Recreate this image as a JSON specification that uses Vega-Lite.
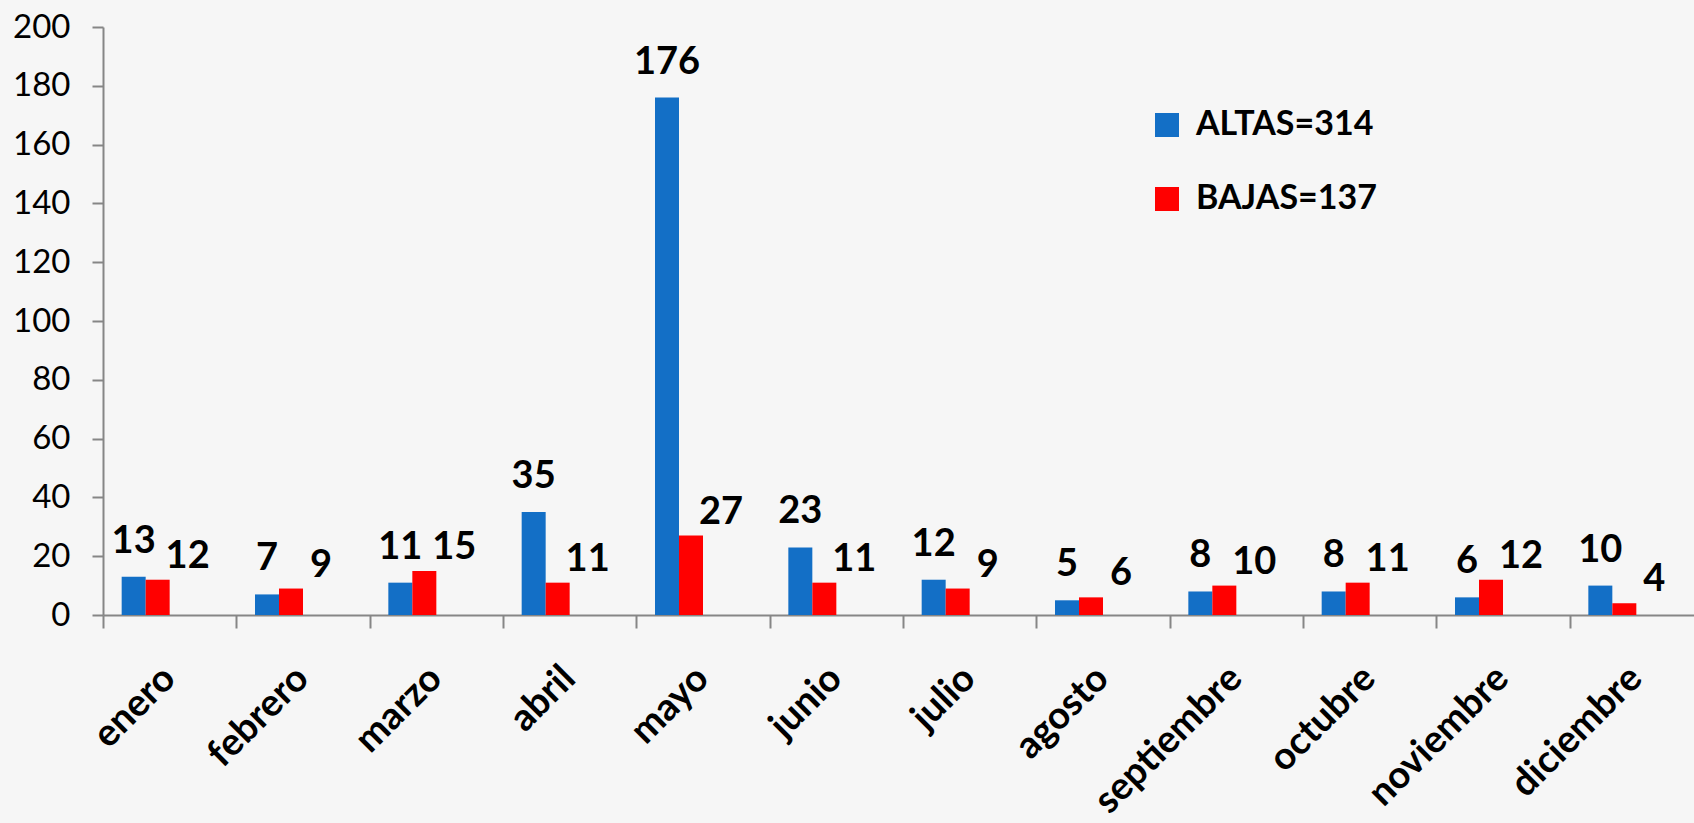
{
  "$schema": "https://vega.github.io/schema/vega-lite/v6.json",
  "width": 1591,
  "height": 588,
  "autosize": {"type": "none"},
  "padding": {"left": 103, "top": 27, "right": 0, "bottom": 208},
  "background": "#f6f6f6",
  "config": {"view": {"stroke": null}, "font": "Lato"},
  "data": {
    "values": [
      {"mes": "enero", "serie": "ALTAS=314", "valor": 13},
      {"mes": "enero", "serie": "BAJAS=137", "valor": 12},
      {"mes": "febrero", "serie": "ALTAS=314", "valor": 7},
      {"mes": "febrero", "serie": "BAJAS=137", "valor": 9},
      {"mes": "marzo", "serie": "ALTAS=314", "valor": 11},
      {"mes": "marzo", "serie": "BAJAS=137", "valor": 15},
      {"mes": "abril", "serie": "ALTAS=314", "valor": 35},
      {"mes": "abril", "serie": "BAJAS=137", "valor": 11},
      {"mes": "mayo", "serie": "ALTAS=314", "valor": 176},
      {"mes": "mayo", "serie": "BAJAS=137", "valor": 27},
      {"mes": "junio", "serie": "ALTAS=314", "valor": 23},
      {"mes": "junio", "serie": "BAJAS=137", "valor": 11},
      {"mes": "julio", "serie": "ALTAS=314", "valor": 12},
      {"mes": "julio", "serie": "BAJAS=137", "valor": 9},
      {"mes": "agosto", "serie": "ALTAS=314", "valor": 5},
      {"mes": "agosto", "serie": "BAJAS=137", "valor": 6},
      {"mes": "septiembre", "serie": "ALTAS=314", "valor": 8},
      {"mes": "septiembre", "serie": "BAJAS=137", "valor": 10},
      {"mes": "octubre", "serie": "ALTAS=314", "valor": 8},
      {"mes": "octubre", "serie": "BAJAS=137", "valor": 11},
      {"mes": "noviembre", "serie": "ALTAS=314", "valor": 6},
      {"mes": "noviembre", "serie": "BAJAS=137", "valor": 12},
      {"mes": "diciembre", "serie": "ALTAS=314", "valor": 10},
      {"mes": "diciembre", "serie": "BAJAS=137", "valor": 4}
    ]
  },
  "encoding": {
    "x": {
      "field": "mes",
      "type": "nominal",
      "sort": null,
      "scale": {"paddingInner": 0, "paddingOuter": 0, "range": [0, 1600]},
      "axis": {
        "title": null,
        "tickBand": "extent",
        "labelAngle": -45,
        "labelFont": "Lato",
        "labelFontSize": 38,
        "labelFontWeight": "bold",
        "labelColor": "#000000",
        "labelLimit": 0,
        "labelPadding": 31,
        "labelOffset": -14,
        "tickSize": 13,
        "tickColor": "#868686",
        "tickWidth": 2,
        "domainColor": "#868686",
        "domainWidth": 2,
        "grid": false
      }
    },
    "xOffset": {
      "field": "serie",
      "type": "nominal",
      "scale": {"domain": ["ALTAS=314", "BAJAS=137", "s3", "s4"], "paddingInner": 0, "paddingOuter": 0.778}
    },
    "y": {
      "field": "valor",
      "type": "quantitative",
      "scale": {"domain": [0, 200], "nice": false},
      "axis": {
        "title": null,
        "values": [0, 20, 40, 60, 80, 100, 120, 140, 160, 180, 200],
        "labelFont": "Lato",
        "labelFontSize": 33,
        "labelColor": "#000000",
        "labelPadding": 22,
        "tickSize": 11,
        "tickColor": "#868686",
        "tickWidth": 2,
        "domainColor": "#868686",
        "domainWidth": 2,
        "grid": false
      }
    }
  },
  "layer": [
    {
      "mark": {"type": "bar"},
      "encoding": {
        "color": {
          "field": "serie",
          "type": "nominal",
          "scale": {"domain": ["ALTAS=314", "BAJAS=137"], "range": ["#136fc6", "#ff0000"]},
          "legend": {
            "title": null,
            "orient": "none",
            "legendX": 1047,
            "legendY": 81,
            "symbolType": "square",
            "symbolSize": 576,
            "symbolStrokeWidth": 0,
            "labelFont": "Lato",
            "labelFontSize": 34,
            "labelFontWeight": "bold",
            "labelColor": "#000000",
            "labelLimit": 0,
            "labelOffset": 12,
            "rowPadding": 40,
            "padding": 0
          }
        }
      }
    },
    {
      "transform": [{"filter": "datum.serie === 'ALTAS=314'"}],
      "mark": {"type": "text", "baseline": "alphabetic", "dy": -24, "fontSize": 38, "fontWeight": "bold", "font": "Lato", "color": "#000000"},
      "encoding": {"text": {"field": "valor", "type": "quantitative"}}
    },
    {
      "transform": [{"filter": "datum.serie === 'BAJAS=137'"}],
      "mark": {"type": "text", "baseline": "alphabetic", "dx": 30, "dy": -12, "fontSize": 38, "fontWeight": "bold", "font": "Lato", "color": "#000000"},
      "encoding": {"text": {"field": "valor", "type": "quantitative"}}
    }
  ]
}
